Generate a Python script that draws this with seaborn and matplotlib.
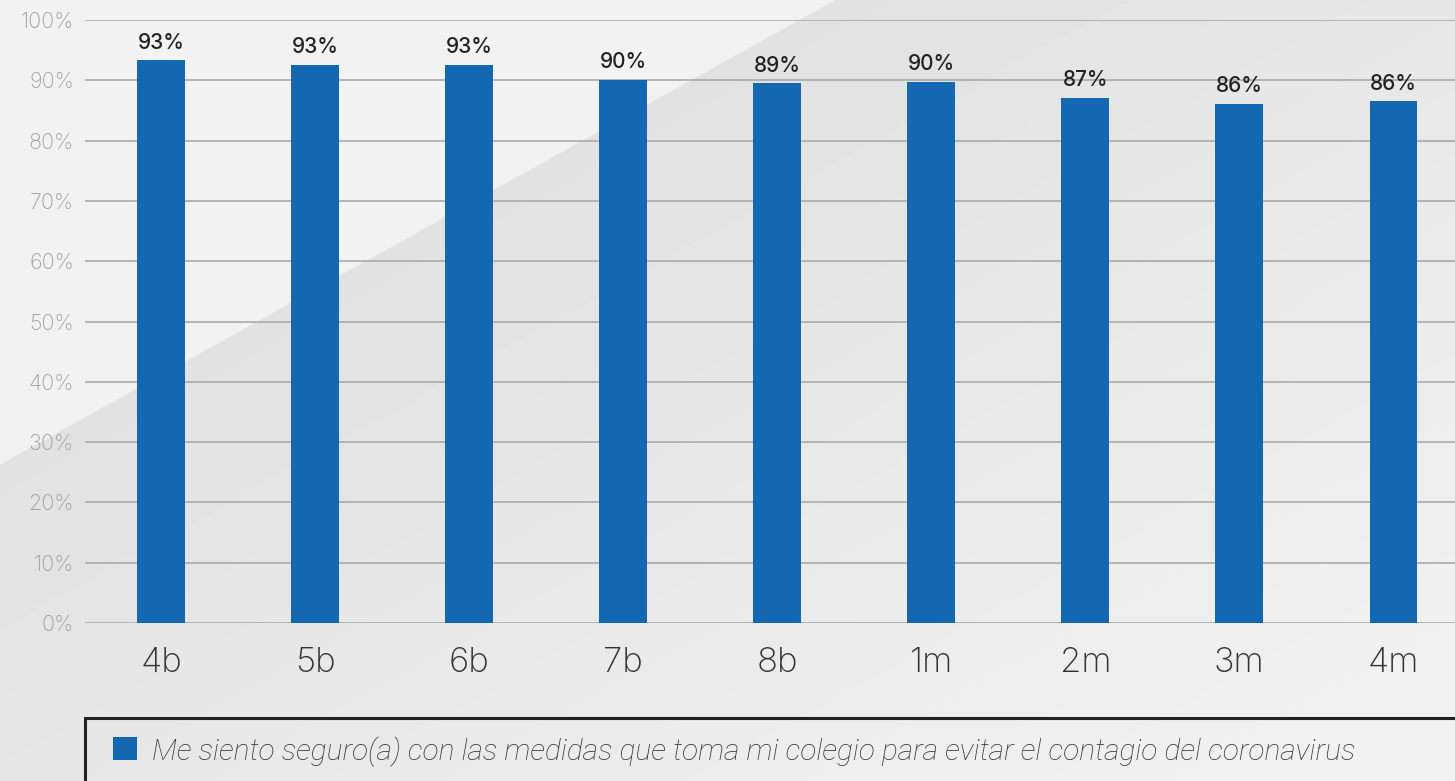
import numpy as np
import matplotlib.pyplot as plt
import seaborn as sns
from matplotlib.patches import Polygon, Rectangle

grades = ["4b", "5b", "6b", "7b", "8b", "1m", "2m", "3m", "4m"]
values = [93.3, 92.6, 92.6, 90.1, 89.5, 89.7, 87.1, 86.1, 86.5]
labels = ["93%", "93%", "93%", "90%", "89%", "90%", "87%", "86%", "86%"]
legend_text = "Me siento seguro(a) con las medidas que toma mi colegio para evitar el contagio del coronavirus"
yticks = list(range(0, 101, 10))

sns.set_theme(style="white")
plt.rcParams["font.family"] = ["Inter", "DejaVu Sans"]

fig = plt.figure(figsize=(14.55, 7.81), dpi=100)
fig.patch.set_facecolor("#f2f2f2")

# background: diagonal darker band with soft gradient
bg = fig.add_axes([0, 0, 1, 1], zorder=-10)
bg.set_xlim(0, 1)
bg.set_ylim(0, 1)
bg.axis("off")
yy, xx = np.mgrid[0:1:200j, 0:1:200j]
px, py = xx * 1455, yy * 781
d = -((835) * (py - 316) - (465) * px) / np.hypot(835, 465)
shade = 0.885 + 0.06 * np.clip(d / 900, 0, 1)
img = bg.imshow(shade, origin="lower", extent=[0, 1, 0, 1], cmap="gray",
                vmin=0, vmax=1, aspect="auto")
poly = Polygon([(0, 0.405), (0.574, 1), (1, 1), (1, 0), (0, 0)],
               transform=bg.transData, facecolor="none", edgecolor="none")
bg.add_patch(poly)
img.set_clip_path(poly)

ax = fig.add_axes([85 / 1455, 1 - 623 / 781, 1 - 85 / 1455, 603 / 781])
ax.patch.set_alpha(0)
sns.barplot(x=grades, y=values, color="#1468b2", width=0.31, saturation=1,
            ax=ax, zorder=3, linewidth=0)

ax.set_ylim(0, 100)
ax.set_xlim(-0.494, 8.4)
ax.set_yticks(yticks)
ax.set_yticklabels([f"{t}%" for t in yticks], color="#a0a0a0",
                   fontsize=15.5, fontweight="light")
ax.tick_params(axis="y", length=0, pad=8)
ax.tick_params(axis="x", length=0, pad=17, labelsize=25, labelcolor="#333333")
for t in ax.get_xticklabels():
    t.set_fontweight("light")
ax.grid(axis="y", color="#aaaaaa", linewidth=1.2, zorder=0)
for s in ax.spines.values():
    s.set_visible(False)

for i, (v, lab) in enumerate(zip(values, labels)):
    ax.annotate(lab, (i, v), xytext=(0, 5.5), textcoords="offset points",
                ha="center", va="bottom", fontsize=15, fontweight="medium",
                color="#222222")

# legend box
fig.patches.append(Rectangle((85 / 1455, -0.05), 1.0, 1 - 718 / 781 + 0.05,
                             transform=fig.transFigure, facecolor="none",
                             edgecolor="#222222", linewidth=2.2, zorder=5))
fig.patches.append(Rectangle((113 / 1455, 1 - 760 / 781), 24 / 1455, 23 / 781,
                             transform=fig.transFigure, facecolor="#1468b2",
                             edgecolor="none", zorder=6))
fig.text(152 / 1455, 1 - 752 / 781, legend_text, ha="left", va="center",
         fontsize=21.5, fontstyle="italic", fontweight="light", color="#333333",
         family=["Roboto", "DejaVu Sans"])

fig.savefig("out.png", dpi=100, facecolor=fig.get_facecolor())
